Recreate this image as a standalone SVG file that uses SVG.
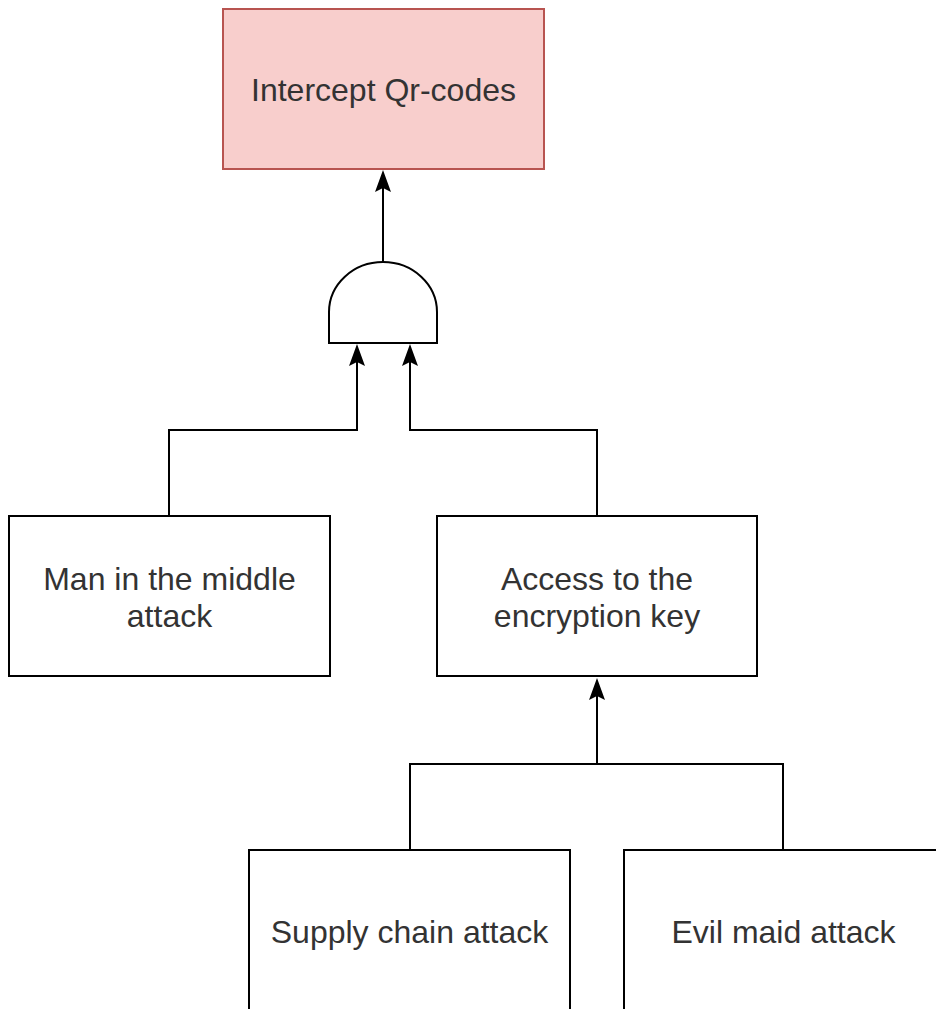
<svg xmlns="http://www.w3.org/2000/svg" width="936" height="1009" viewBox="0 0 936 1009">
  <style>
    .box { fill: #ffffff; stroke: #000000; stroke-width: 2; }
    .goal { fill: #f8cecc; stroke: #b85450; stroke-width: 2; }
    .gate { fill: #ffffff; stroke: #000000; stroke-width: 2; }
    .wire { fill: none; stroke: #000000; stroke-width: 2; }
    .head { fill: #000000; }
    .label { font-family: "Liberation Sans", Arial, sans-serif; font-size: 32px; fill: #333333; text-anchor: middle; }
  </style>

  <g id="connectors">
    <!-- gate output to top goal -->
    <path class="wire" d="M383 262 L383 175"/>
    <path class="head" d="M383 170 L391 192 L383 188 L375 192 Z"/>
    <!-- gate inputs -->
    <path class="wire" d="M169 516 L169 430 L357 430 L357 350"/>
    <path class="head" d="M357 344 L365 366 L357 362 L349 366 Z"/>
    <path class="wire" d="M597 516 L597 430 L410 430 L410 350"/>
    <path class="head" d="M410 344 L418 366 L410 362 L402 366 Z"/>
    <!-- leaves to access node -->
    <path class="wire" d="M410 850 L410 764 L783 764 L783 850"/>
    <path class="wire" d="M597 764 L597 684"/>
    <path class="head" d="M597 678 L605 700 L597 696 L589 700 Z"/>
  </g>

  <g id="goal-intercept">
    <rect class="goal" x="223" y="9" width="321" height="160"/>
    <text class="label" x="383.5" y="101">Intercept Qr-codes</text>
  </g>

  <g id="and-gate">
    <path class="gate" d="M329 343 L329 312 A54 50 0 0 1 437 312 L437 343 Z"/>
  </g>

  <g id="node-mitm">
    <rect class="box" x="9" y="516" width="321" height="160"/>
    <text class="label" x="169.5" y="590">Man in the middle</text>
    <text class="label" x="169.5" y="627">attack</text>
  </g>

  <g id="node-access-key">
    <rect class="box" x="437" y="516" width="320" height="160"/>
    <text class="label" x="597" y="590">Access to the</text>
    <text class="label" x="597" y="627">encryption key</text>
  </g>

  <g id="node-supply-chain">
    <rect class="box" x="249" y="850" width="321" height="170"/>
    <text class="label" x="409.5" y="943">Supply chain attack</text>
  </g>

  <g id="node-evil-maid">
    <rect class="box" x="624" y="850" width="330" height="170"/>
    <text class="label" x="783.5" y="943">Evil maid attack</text>
  </g>
</svg>
